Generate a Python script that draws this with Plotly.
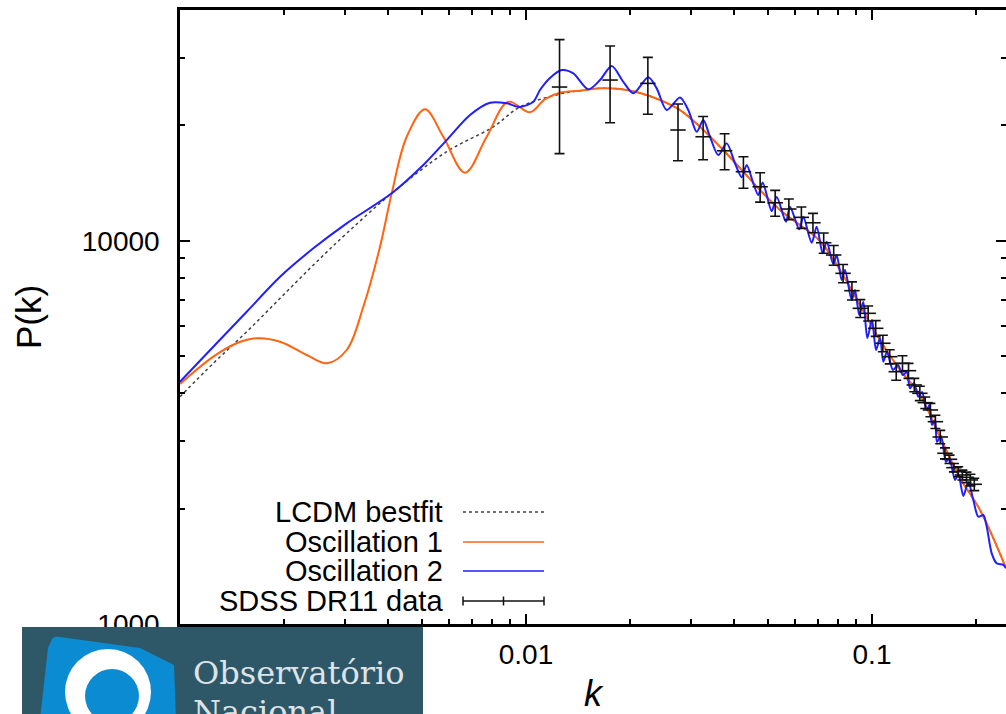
import plotly.graph_objects as go

# ---------------------------------------------------------------
# Matter power spectrum P(k): best-fit LCDM, two oscillating
# primordial models and the SDSS DR11 measurements.
# ---------------------------------------------------------------

# LCDM best fit
k_lcdm = [0.001, 0.001248, 0.001559, 0.001946, 0.002429, 0.003032, 0.004092,
          0.005898, 0.008044, 0.009609, 0.012539, 0.014325, 0.016364, 0.018693,
          0.021355, 0.024393, 0.027864, 0.031833, 0.036366, 0.041541, 0.047454,
          0.054211, 0.061931, 0.070745, 0.080820, 0.092326, 0.10547, 0.12047,
          0.13763, 0.15722, 0.17961, 0.20519, 0.24394]
p_lcdm = [3918, 4788, 5789, 7075, 8641, 10460, 13300,
          17070, 19830, 22330, 24140, 24630, 24980, 24880,
          24290, 23290, 21930, 19830, 17590, 15480, 13560,
          12030, 10990, 9982, 8386, 6796, 5507, 4600,
          3958, 3076, 2404, 1984, 1400]

# Oscillation 1
k_osc1 = [0.001, 0.001248, 0.001458, 0.001666, 0.001946, 0.002324, 0.002655,
          0.003032, 0.003387, 0.003785, 0.004092, 0.004521, 0.005106, 0.005767,
          0.006664, 0.007699, 0.008889, 0.010270, 0.011348, 0.012539, 0.014325,
          0.016364, 0.018693, 0.021355, 0.024393, 0.027864, 0.031833, 0.036366,
          0.041541, 0.047454, 0.054211, 0.061931, 0.070745, 0.080820, 0.092326,
          0.10547, 0.12047, 0.13763, 0.15722, 0.17961, 0.20519, 0.24394]
p_osc1 = [4228, 4983, 5401, 5564, 5451, 5033, 4788,
          5187, 6727, 9646, 13300, 18680, 22020, 18680,
          15050, 18680, 23050, 21630, 23430, 24330, 24630,
          24980, 24880, 24290, 23290, 21930, 19830, 17590,
          15480, 13560, 12030, 10990, 9982, 8386, 6796,
          5507, 4600, 3958, 3076, 2404, 1984, 1400]

# Oscillation 2
k_osc2 = [0.001, 0.001248, 0.001559, 0.001946, 0.002429, 0.003032, 0.004092,
          0.005049, 0.005898, 0.006889, 0.007872, 0.008796, 0.009609, 0.010498,
          0.010976, 0.011731, 0.012686, 0.013701, 0.015137, 0.016364, 0.017689,
          0.019105, 0.020424, 0.022565, 0.023862, 0.025506, 0.027864, 0.029447,
          0.031139, 0.032539, 0.034022, 0.035955, 0.038022, 0.040182, 0.042013,
          0.043434, 0.045386, 0.046922, 0.048315, 0.051303, 0.053038, 0.056422,
          0.057944, 0.061642, 0.063307, 0.066945, 0.069210, 0.072030, 0.073972,
          0.077295, 0.079064, 0.081740, 0.083554, 0.087363, 0.089303, 0.091895,
          0.094375, 0.096922, 0.1, 0.10270, 0.10546, 0.10781, 0.11050,
          0.11499, 0.11888, 0.12266, 0.12597, 0.12877, 0.13224, 0.13609,
          0.13948, 0.14391, 0.14662, 0.14908, 0.15209, 0.15412, 0.15828,
          0.16364, 0.16728, 0.17374, 0.17760, 0.18361, 0.18982, 0.19624,
          0.20288, 0.20975, 0.21454, 0.22180, 0.22930, 0.23960, 0.24394]
p_osc2 = [4287, 5290, 6528, 8055, 9554, 11100, 13300,
          15760, 18310, 21280, 22910, 22830, 22330, 23050,
          24730, 26580, 27880, 27340, 24830, 26260, 28560,
          25990, 24240, 26690, 24980, 21930, 23660, 21930,
          19250, 20650, 18680, 16730, 17950, 15920, 14640,
          15760, 14120, 13160, 14200, 11950, 13000, 11210,
          12270, 10710, 11550, 9880, 10880, 9271, 9940,
          8694, 9177, 7897, 8386, 7004, 7437, 6400,
          6919, 5574, 6210, 5187, 5574, 4835, 5125,
          4600, 4740, 4464, 4545, 4121, 4253, 3918,
          4030, 3618, 3728, 3305, 3406, 2985, 3094,
          2647, 2711, 2376, 2463, 2158, 2347, 2106,
          1905, 1925, 1795, 1529, 1440, 1426, 1398]

# SDSS DR11 band powers
k_sdss = [0.0125, 0.0175, 0.0225, 0.0275, 0.0325, 0.0375, 0.0425, 0.0475,
          0.0525, 0.0575, 0.0625, 0.0675, 0.0725, 0.0775, 0.0825, 0.0875,
          0.0925, 0.0975, 0.1025, 0.1075, 0.1125, 0.1175, 0.1225, 0.1275,
          0.1325, 0.1375, 0.1425, 0.1475, 0.1525, 0.1575, 0.1625, 0.1675,
          0.1725, 0.1775, 0.1825, 0.1875, 0.1925, 0.1975]
p_sdss = [25180, 26260, 25740, 19450, 18680, 17170, 15140, 13830,
          12560, 12100, 11510, 11140, 9880, 9177, 8222, 7407,
          6663, 6466, 5909, 5401, 4983, 4553, 4789, 4581,
          4204, 3999, 3780, 3618, 3372, 3076, 2789, 2690,
          2558, 2497, 2448, 2414, 2376, 2315]
err_sdss = [8300, 5950, 4360, 3280, 2410, 1850, 1430, 1220,
            970, 750, 740, 650, 600, 545, 450, 405,
            356, 290, 278, 266, 210, 228, 222, 206,
            169, 173, 131, 145, 134, 124, 92, 68,
            64, 75, 73, 76, 83, 86]

# axis ticks (the 0.001 label sits under the badge)
x_major = [0.001, 0.01, 0.1]
x_major_text = ["", "0.01", "0.1"]
x_minor = [0.002, 0.003, 0.004, 0.005, 0.006, 0.007, 0.008, 0.009,
           0.02, 0.03, 0.04, 0.05, 0.06, 0.07, 0.08, 0.09, 0.2]
y_major = [1000, 10000]
y_major_text = ["1000", "10000"]
y_minor = [2000, 3000, 4000, 5000, 6000, 7000, 8000, 9000, 20000, 30000]

legend_labels = ["LCDM bestfit", "Oscillation 1", "Oscillation 2", "SDSS DR11 data"]

ORANGE = "#ff6410"
BLUE = "#1f1fff"
FONT = "Liberation Sans, Arial, Helvetica, sans-serif"

W, H = 1006, 714
ML, MR, MT, MB = 180, 0, 10, 90
PW, PH = W - ML - MR, H - MT - MB


def pxx(p):
    """figure pixel column -> paper x"""
    return (p - ML) / PW


def pxy(p):
    """figure pixel row -> paper y"""
    return (H - MB - p) / PH


fig = go.Figure()

fig.add_trace(go.Scatter(x=k_lcdm, y=p_lcdm, mode="lines",
                         line=dict(color="#404040", width=1.5, dash="dot",
                                   shape="spline", smoothing=1.0)))
fig.add_trace(go.Scatter(x=k_osc1, y=p_osc1, mode="lines",
                         line=dict(color=ORANGE, width=2,
                                   shape="spline", smoothing=1.0)))
fig.add_trace(go.Scatter(x=k_osc2, y=p_osc2, mode="lines",
                         line=dict(color=BLUE, width=2,
                                   shape="spline", smoothing=0.8)))
fig.add_trace(go.Scatter(x=k_sdss, y=p_sdss, mode="markers",
                         marker=dict(symbol="line-ew", size=11,
                                     line=dict(color="#111111", width=1.6)),
                         error_y=dict(type="data", array=err_sdss, visible=True,
                                      color="#111111", thickness=1.6, width=5)))

shapes = []
annotations = []

# key, gnuplot style: right-aligned text followed by the line sample
rows = [512, 542, 571, 601]
for lab, row in zip(legend_labels, rows):
    annotations.append(dict(x=pxx(445), y=pxy(row), xref="paper", yref="paper",
                            text=lab, showarrow=False, xanchor="right",
                            yanchor="middle",
                            font=dict(family=FONT, size=29, color="black")))
sample_styles = [dict(color="#404040", width=1.5, dash="dot"),
                 dict(color=ORANGE, width=1.5),
                 dict(color=BLUE, width=1.5),
                 dict(color="#111111", width=1.5)]
for row, st in zip(rows, sample_styles):
    shapes.append(dict(type="line", xref="paper", yref="paper",
                       x0=pxx(463), x1=pxx(544), y0=pxy(row), y1=pxy(row),
                       line=st))
for cx in (463, 503.5, 544):
    shapes.append(dict(type="line", xref="paper", yref="paper",
                       x0=pxx(cx), x1=pxx(cx), y0=pxy(rows[3] - 4.5),
                       y1=pxy(rows[3] + 4.5),
                       line=dict(color="#111111", width=1.5)))

# institute badge in the lower-left corner
TEAL = "#2e5868"
LOGO_BLUE = "#0b8bd2"
shapes.append(dict(type="rect", xref="paper", yref="paper", layer="above",
                   x0=pxx(22), x1=pxx(423), y0=pxy(720), y1=pxy(627),
                   fillcolor=TEAL, line=dict(width=0)))
icon = [(57, 637), (140, 648), (174, 665), (176, 720), (40, 720), (48, 648)]
path = "M {},{} ".format(pxx(52), pxy(639))
path += "Q {},{} {},{} ".format(pxx(54), pxy(636), pxx(60), pxy(637))
for (a, b) in icon[1:]:
    path += "L {},{} ".format(pxx(a), pxy(b))
path += "Z"
shapes.append(dict(type="path", xref="paper", yref="paper", layer="above",
                   path=path, fillcolor=LOGO_BLUE, line=dict(width=0)))
shapes.append(dict(type="circle", xref="paper", yref="paper", layer="above",
                   x0=pxx(108 - 43), x1=pxx(108 + 43),
                   y0=pxy(692 + 43), y1=pxy(692 - 43),
                   fillcolor="white", line=dict(width=0)))
shapes.append(dict(type="circle", xref="paper", yref="paper", layer="above",
                   x0=pxx(112 - 27), x1=pxx(112 + 27),
                   y0=pxy(696 + 27), y1=pxy(696 - 27),
                   fillcolor=LOGO_BLUE, line=dict(width=0)))
annotations.append(dict(x=pxx(191), y=pxy(673), xref="paper", yref="paper",
                        text="Observatório", showarrow=False, xanchor="left",
                        yanchor="middle",
                        font=dict(family="DejaVu Serif", size=32, color="#dde3e6")))
annotations.append(dict(x=pxx(191), y=pxy(712), xref="paper", yref="paper",
                        text="Nacional", showarrow=False, xanchor="left",
                        yanchor="middle",
                        font=dict(family="DejaVu Serif", size=32, color="#dde3e6")))

axis_common = dict(type="log", showgrid=False, zeroline=False,
                   showline=True, linecolor="black", linewidth=2.5,
                   mirror="ticks", ticks="inside", ticklen=10, tickwidth=2,
                   tickcolor="black", tickfont=dict(family=FONT, size=28, color="black"),
                   automargin=False)

fig.update_layout(
    width=W, height=H,
    margin=dict(l=ML, r=MR, t=MT, b=MB, pad=0),
    paper_bgcolor="white", plot_bgcolor="white",
    showlegend=False,
    font=dict(family=FONT, color="black"),
    xaxis=dict(axis_common, range=[-3, -0.61272],
               tickmode="array", tickvals=x_major, ticktext=x_major_text,
               ticklabelstandoff=4,
               minor=dict(tickmode="array", tickvals=x_minor, ticks="inside",
                          ticklen=5, tickwidth=1.5, tickcolor="black",
                          showgrid=False),
               title=dict(text="<i>k</i>", standoff=12,
                          font=dict(family=FONT, size=36, color="black"))),
    yaxis=dict(axis_common, range=[3, 4.60206],
               tickmode="array", tickvals=y_major, ticktext=y_major_text,
               ticklabelstandoff=12,
               minor=dict(tickmode="array", tickvals=y_minor, ticks="inside",
                          ticklen=5, tickwidth=1.5, tickcolor="black",
                          showgrid=False),
               title=dict(text="P(k)", standoff=30,
                          font=dict(family=FONT, size=35, color="black"))),
    shapes=shapes,
    annotations=annotations,
)

fig.write_html("out.html")
